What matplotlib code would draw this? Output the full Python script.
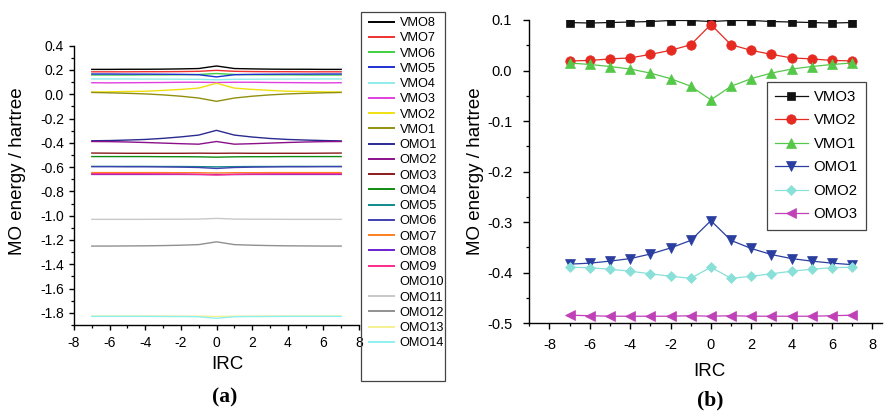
import matplotlib
matplotlib.use("Agg")
import matplotlib.pyplot as plt
from matplotlib.ticker import MultipleLocator, FormatStrFormatter
from matplotlib.patches import Rectangle

plt.rcParams['font.family'] = ['Liberation Sans', 'DejaVu Sans']
plt.rcParams['axes.unicode_minus'] = False

# ---------------- data ----------------
irc = [-7, -6, -5, -4, -3, -2, -1, 0, 1, 2, 3, 4, 5, 6, 7]

vmo8 = [0.205, 0.205, 0.206, 0.206, 0.207, 0.209, 0.212, 0.233, 0.212, 0.209, 0.207, 0.206, 0.206, 0.205, 0.205]
vmo7 = [0.185, 0.185, 0.185, 0.186, 0.186, 0.187, 0.189, 0.197, 0.189, 0.187, 0.186, 0.186, 0.185, 0.185, 0.185]
vmo6 = [0.159, 0.159, 0.159, 0.160, 0.160, 0.161, 0.163, 0.171, 0.163, 0.161, 0.160, 0.160, 0.159, 0.159, 0.159]
vmo5 = [0.167, 0.167, 0.166, 0.166, 0.165, 0.164, 0.161, 0.143, 0.161, 0.164, 0.165, 0.166, 0.166, 0.167, 0.167]
vmo4 = [0.126, 0.126, 0.126, 0.125, 0.125, 0.124, 0.123, 0.119, 0.123, 0.124, 0.125, 0.125, 0.126, 0.126, 0.126]
vmo3 = [0.095, 0.094, 0.095, 0.096, 0.097, 0.099, 0.099, 0.097, 0.099, 0.099, 0.097, 0.096, 0.095, 0.094, 0.095]
vmo2 = [0.019, 0.020, 0.023, 0.025, 0.032, 0.040, 0.051, 0.091, 0.051, 0.040, 0.032, 0.025, 0.023, 0.020, 0.019]
vmo1 = [0.015, 0.012, 0.008, 0.003, -0.005, -0.016, -0.031, -0.058, -0.031, -0.016, -0.005, 0.003, 0.008, 0.012, 0.015]
omo1 = [-0.383, -0.381, -0.377, -0.372, -0.363, -0.351, -0.336, -0.297, -0.336, -0.352, -0.364, -0.372, -0.377, -0.381, -0.384]
omo2 = [-0.389, -0.390, -0.393, -0.397, -0.402, -0.407, -0.411, -0.389, -0.411, -0.407, -0.402, -0.397, -0.393, -0.390, -0.389]
omo3 = [-0.484, -0.485, -0.486, -0.486, -0.486, -0.486, -0.485, -0.486, -0.485, -0.486, -0.486, -0.486, -0.486, -0.485, -0.484]
omo4 = [-0.513, -0.513, -0.513, -0.513, -0.514, -0.514, -0.515, -0.518, -0.515, -0.514, -0.514, -0.513, -0.513, -0.513, -0.513]
omo5 = [-0.594, -0.594, -0.594, -0.594, -0.595, -0.595, -0.596, -0.598, -0.596, -0.595, -0.595, -0.594, -0.594, -0.594, -0.594]
omo6 = [-0.596, -0.596, -0.597, -0.597, -0.598, -0.600, -0.603, -0.611, -0.603, -0.600, -0.598, -0.597, -0.597, -0.596, -0.596]
omo7 = [-0.645, -0.645, -0.645, -0.645, -0.645, -0.646, -0.646, -0.648, -0.646, -0.646, -0.645, -0.645, -0.645, -0.645, -0.645]
omo8 = [-0.660, -0.660, -0.660, -0.660, -0.660, -0.660, -0.661, -0.661, -0.661, -0.660, -0.660, -0.660, -0.660, -0.660, -0.660]
omo9 = [-0.655, -0.655, -0.655, -0.655, -0.656, -0.657, -0.659, -0.665, -0.659, -0.657, -0.656, -0.655, -0.655, -0.655, -0.655]
omo10 = [-0.880, -0.880, -0.880, -0.880, -0.880, -0.880, -0.880, -0.880, -0.880, -0.880, -0.880, -0.880, -0.880, -0.880, -0.880]
omo11 = [-1.030, -1.030, -1.030, -1.030, -1.029, -1.029, -1.028, -1.022, -1.028, -1.029, -1.029, -1.030, -1.030, -1.030, -1.030]
omo12 = [-1.250, -1.250, -1.249, -1.248, -1.246, -1.243, -1.238, -1.215, -1.238, -1.243, -1.246, -1.248, -1.249, -1.250, -1.250]
omo13 = [-1.826, -1.826, -1.826, -1.826, -1.826, -1.827, -1.827, -1.830, -1.827, -1.827, -1.826, -1.826, -1.826, -1.826, -1.826]
omo14 = [-1.829, -1.829, -1.829, -1.829, -1.830, -1.830, -1.832, -1.845, -1.832, -1.830, -1.830, -1.829, -1.829, -1.829, -1.829]

labels_a = ['VMO8', 'VMO7', 'VMO6', 'VMO5', 'VMO4', 'VMO3', 'VMO2', 'VMO1',
            'OMO1', 'OMO2', 'OMO3', 'OMO4', 'OMO5', 'OMO6', 'OMO7', 'OMO8',
            'OMO9', 'OMO10', 'OMO11', 'OMO12', 'OMO13', 'OMO14']
series_a = [vmo8, vmo7, vmo6, vmo5, vmo4, vmo3, vmo2, vmo1,
            omo1, omo2, omo3, omo4, omo5, omo6, omo7, omo8,
            omo9, omo10, omo11, omo12, omo13, omo14]
colors_a = ['#000000', '#f03030', '#40d040', '#2030d0', '#90ecec', '#e040e0',
            '#f0e010', '#909010', '#2a2a90', '#8a108a', '#8a1a1a', '#108a10',
            '#108a8a', '#4040b0', '#ff8020', '#6a20d0', '#ff2a8a', '#ffffff',
            '#c8c8c8', '#909090', '#f5f090', '#90f0f0']

labels_b = ['VMO3', 'VMO2', 'VMO1', 'OMO1', 'OMO2', 'OMO3']
series_b = [vmo3, vmo2, vmo1, omo1, omo2, omo3]
colors_b = ['#111111', '#e52a22', '#55c84a', '#2a3ea0', '#88e0d8', '#c040b8']
markers_b = ['s', 'o', '^', 'v', 'D', '<']
msizes_b = [6.2, 6.8, 7.5, 7.5, 5.6, 7.5]

W, H = 890, 411
fig = plt.figure(figsize=(W / 100, H / 100), dpi=100)


def frac(x0, y_top, x1, y_bot):
    return [x0 / W, 1 - y_bot / H, (x1 - x0) / W, (y_bot - y_top) / H]


def style_axes(ax, tick_fs, ypad, xpad, maj_len, min_len):
    for s in ('top', 'right'):
        ax.spines[s].set_visible(False)
    for s in ('left', 'bottom'):
        ax.spines[s].set_linewidth(1.0)
    ax.tick_params(which='major', direction='out', length=maj_len, width=1.0,
                   labelsize=tick_fs)
    ax.tick_params(which='minor', direction='out', length=min_len, width=0.9)
    ax.tick_params(axis='y', which='major', pad=ypad)
    ax.tick_params(axis='x', which='major', pad=xpad)


# ---------------- panel (a) ----------------
ax1 = fig.add_axes(frac(74, 45.7, 359, 325))
handles = []
for vals, lab, col in zip(series_a, labels_a, colors_a):
    h, = ax1.plot(irc, vals, color=col, lw=1.0, label=lab)
    handles.append(h)
ax1.set_xlim(-8, 8)
ax1.set_ylim(-1.9, 0.4)
ax1.xaxis.set_major_locator(MultipleLocator(2))
ax1.xaxis.set_minor_locator(MultipleLocator(1))
ax1.yaxis.set_major_locator(MultipleLocator(0.2))
ax1.yaxis.set_minor_locator(MultipleLocator(0.1))
ax1.yaxis.set_major_formatter(FormatStrFormatter('%.1f'))
ax1.xaxis.set_major_formatter(FormatStrFormatter('%d'))
style_axes(ax1, 10, 3.6, 4.5, 3.5, 2.0)
ax1.set_ylabel('MO energy / hartree', fontsize=13.5)
ax1.yaxis.set_label_coords(-0.168, 0.55)
ax1.set_xlabel('IRC', fontsize=13.5)
ax1.xaxis.set_label_coords(0.537, -0.110)

leg_a = fig.legend(handles=handles, loc='upper left',
                   bbox_to_anchor=(369 / W, 1 - 17.0 / H), frameon=False,
                   fontsize=9.2, labelspacing=0.255, handlelength=1.96,
                   handletextpad=0.45, borderpad=0, borderaxespad=0)
for ln in leg_a.get_lines():
    ln.set_linewidth(1.4)
fig.patches.append(Rectangle((361 / W, 1 - 381 / H), 84 / W, 369 / H,
                             transform=fig.transFigure, fill=False,
                             edgecolor='#444444', lw=0.9))

# ---------------- panel (b) ----------------
ax2 = fig.add_axes(frac(529.3, 20, 882.4, 323.3))
for vals, lab, col, mk, ms in zip(series_b, labels_b, colors_b, markers_b, msizes_b):
    ax2.plot(irc, vals, color=col, lw=0.9, marker=mk, markersize=ms,
             markerfacecolor=col, markeredgecolor=col, markeredgewidth=0.5,
             label=lab)
ax2.set_xlim(-9, 8.5)
ax2.set_ylim(-0.5, 0.1)
ax2.xaxis.set_major_locator(MultipleLocator(2))
ax2.xaxis.set_minor_locator(MultipleLocator(1))
ax2.yaxis.set_major_locator(MultipleLocator(0.1))
ax2.yaxis.set_minor_locator(MultipleLocator(0.05))
ax2.yaxis.set_major_formatter(FormatStrFormatter('%.1f'))
ax2.xaxis.set_major_formatter(FormatStrFormatter('%d'))
style_axes(ax2, 10.5, 8, 6.5, 4.3, 2.5)
ax2.set_ylabel('MO energy / hartree', fontsize=13.5)
ax2.yaxis.set_label_coords(-0.128, 0.5)
ax2.set_xlabel('IRC', fontsize=13.5)
ax2.xaxis.set_label_coords(0.509, -0.130)

leg_b = ax2.legend(loc='upper left', bbox_to_anchor=(766.7 / W, 1 - 81.7 / H),
                   bbox_transform=fig.transFigure, fontsize=10.7,
                   labelspacing=0.64, handlelength=2.2, handletextpad=0.4,
                   borderpad=0.55, borderaxespad=0, fancybox=False,
                   framealpha=1, edgecolor='#444444')
leg_b.get_frame().set_linewidth(0.9)

# panel captions
fig.text(225 / W, 1 - 397 / H, '(a)', ha='center', va='center', fontsize=15.5,
         fontweight='bold', family=['Liberation Serif', 'DejaVu Serif'])
fig.text(710 / W, 1 - 400 / H, '(b)', ha='center', va='center', fontsize=15.5,
         fontweight='bold', family=['Liberation Serif', 'DejaVu Serif'])

fig.savefig('out.png', dpi=100)
